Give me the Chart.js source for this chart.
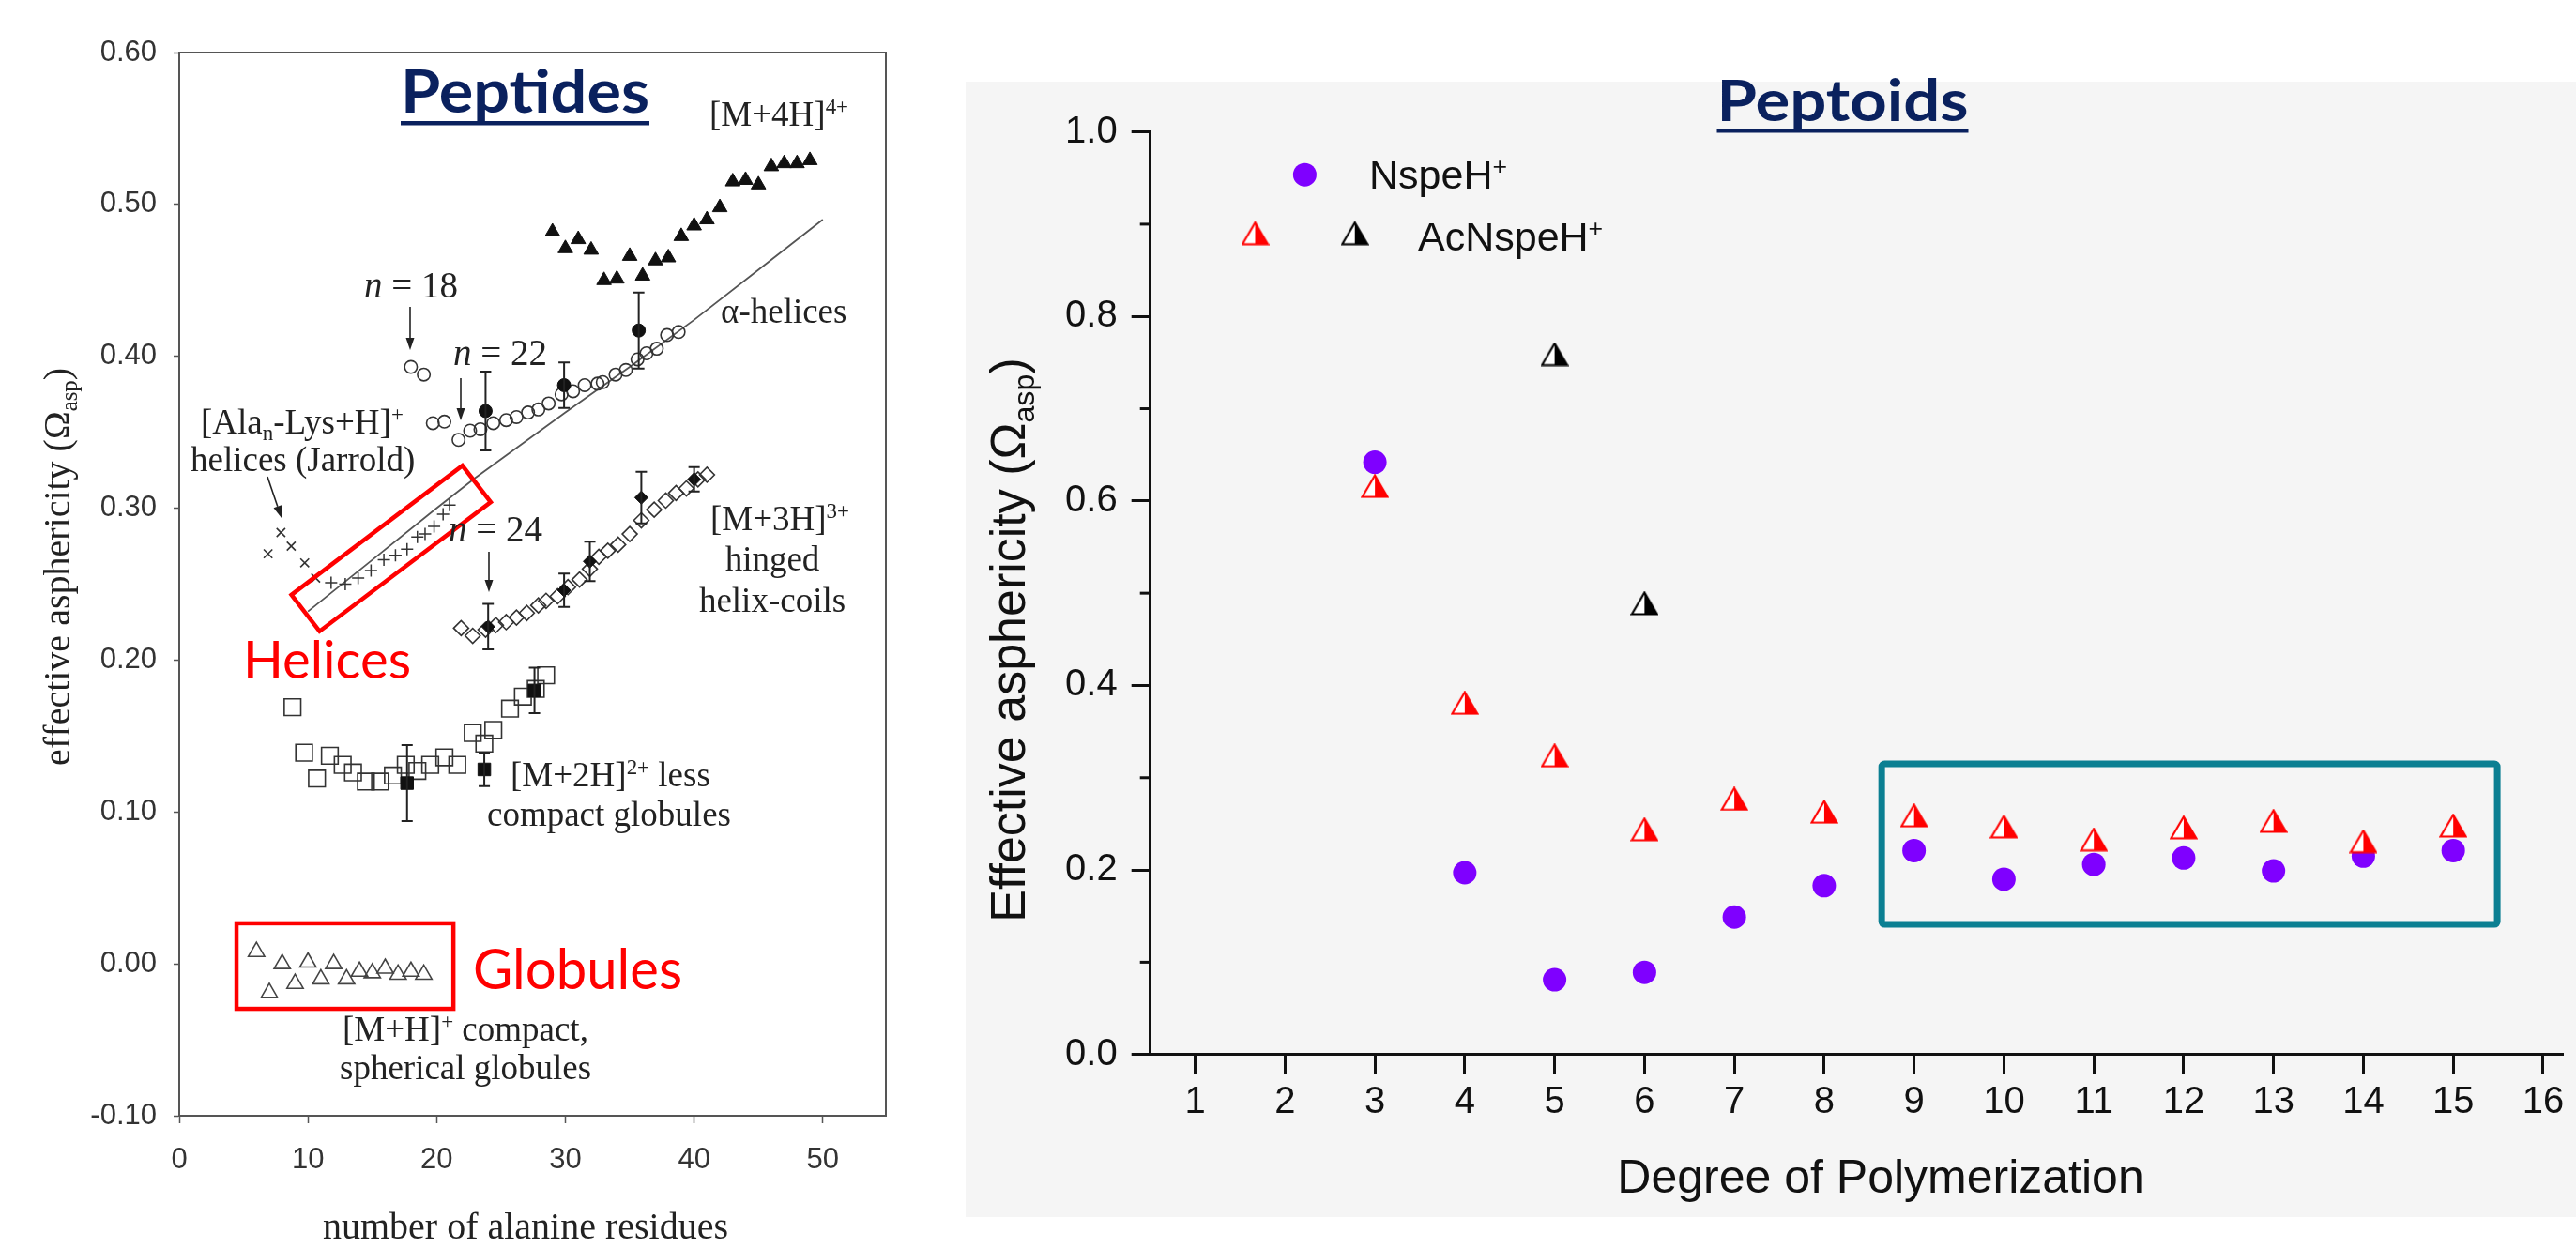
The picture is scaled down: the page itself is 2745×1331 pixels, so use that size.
<!DOCTYPE html>
<html>
<head>
<meta charset="utf-8">
<script src="https://cdn.jsdelivr.net/npm/chart.js@4.4.1/dist/chart.umd.min.js"></script>
<style>
html,body{margin:0;padding:0;background:#fff;width:2745px;height:1331px;overflow:hidden}
#left{position:absolute;left:0;top:0;width:1000px;height:1331px}
#right{position:absolute;left:1000px;top:0;width:1745px;height:1331px}
canvas{display:block}
</style>
</head>
<body>
<div id="left"><canvas id="c1" width="1000" height="1331"></canvas></div>
<div id="right"><canvas id="c2" width="1745" height="1331"></canvas></div>
<script>
// ================= DATA: left panel (Peptides) =================
const leftXTicks = [0, 10, 20, 30, 40, 50];
const leftYTicks = [-0.10, 0.00, 0.10, 0.20, 0.30, 0.40, 0.50, 0.60];

// alpha-helix model curve
const helixLineX = [10, 15, 20, 23, 30, 35, 40, 45, 50];
const helixLineY = [0.232, 0.266, 0.300, 0.320, 0.363, 0.393, 0.424, 0.457, 0.490];

// [M+4H]4+ filled triangles
const m4hX = [29, 30, 31, 32, 33, 34, 35, 36, 37, 38, 39, 40, 41, 42, 43, 44, 45, 46, 47, 48, 49];
const m4hY = [0.482, 0.471, 0.477, 0.470, 0.450, 0.451, 0.466, 0.453, 0.463, 0.465, 0.479, 0.486, 0.490, 0.498, 0.515, 0.516, 0.513, 0.525, 0.527, 0.527, 0.529];

// alpha-helices open circles
const helixX = [18, 19, 19.7, 20.6, 21.7, 22.6, 23.4, 24.4, 25.4, 26.2, 27.1, 27.9, 28.7, 29.7, 30.6, 31.5, 32.5, 32.9, 33.9, 34.7, 35.6, 36.3, 37.1, 37.9, 38.8];
const helixY = [0.393, 0.388, 0.356, 0.357, 0.345, 0.351, 0.352, 0.356, 0.358, 0.360, 0.363, 0.365, 0.369, 0.375, 0.377, 0.381, 0.382, 0.383, 0.388, 0.391, 0.398, 0.402, 0.405, 0.414, 0.416];
const helixFillX = [23.8, 29.9, 35.7];
const helixFillY = [0.364, 0.381, 0.417];
const helixFillErr = [0.026, 0.015, 0.025];

// [M+3H]3+ hinged helix-coils (diamonds)
const coilX = [21.9, 22.8, 23.8, 24.6, 25.4, 26.2, 27.0, 27.9, 28.5, 29.4, 30.2, 31.1, 31.9, 32.6, 33.3, 34.1, 35.0, 35.9, 36.9, 37.8, 38.6, 39.4, 40.3, 41.0];
const coilY = [0.221, 0.216, 0.220, 0.223, 0.225, 0.228, 0.231, 0.236, 0.239, 0.242, 0.248, 0.253, 0.260, 0.268, 0.272, 0.276, 0.283, 0.292, 0.299, 0.305, 0.310, 0.313, 0.319, 0.322];
const coilFillX = [24.0, 29.9, 31.9, 35.9, 40.0];
const coilFillY = [0.222, 0.246, 0.265, 0.307, 0.319];
const coilFillErr = [0.015, 0.011, 0.013, 0.017, 0.008];

// [Ala_n-Lys+H]+ helices (Jarrold)
const jarXA = [6.9, 7.9, 8.7, 9.75, 10.6];
const jarYA = [0.270, 0.284, 0.275, 0.264, 0.254];
const jarXB = [11.8, 12.9, 13.9, 14.9, 15.9, 16.8, 17.7, 18.5, 19.1, 19.8, 20.5, 21.0];
const jarYB = [0.251, 0.250, 0.254, 0.259, 0.266, 0.269, 0.273, 0.281, 0.283, 0.288, 0.296, 0.302];

// [M+2H]2+ less compact globules (squares)
const globX = [8.8, 9.7, 10.7, 11.7, 12.7, 13.5, 14.5, 15.6, 16.6, 17.6, 18.5, 19.5, 20.6, 21.6, 22.8, 23.7, 24.4, 25.7, 26.7, 27.7, 28.5];
const globY = [0.169, 0.139, 0.122, 0.137, 0.131, 0.126, 0.120, 0.120, 0.124, 0.131, 0.127, 0.131, 0.136, 0.131, 0.152, 0.145, 0.154, 0.168, 0.176, 0.181, 0.190];
const globFillX = [17.7, 23.7, 27.6];
const globFillY = [0.119, 0.128, 0.180];
const globFillErr = [0.025, 0.011, 0.015];

// [M+H]+ compact spherical globules (open triangles)
const compX = [6, 7, 8, 9, 10, 11, 12, 13, 14, 15, 16, 17, 18, 19];
const compY = [0.008, -0.019, 0.000, -0.013, 0.001, -0.010, 0.000, -0.010, -0.005, -0.006, -0.003, -0.007, -0.005, -0.007];

// ================= DATA: right panel (Peptoids) =================
const rightXTicks = [1, 2, 3, 4, 5, 6, 7, 8, 9, 10, 11, 12, 13, 14, 15, 16];
const rightYTicks = [0.0, 0.2, 0.4, 0.6, 0.8, 1.0];
const rightYMinor = [0.1, 0.3, 0.5, 0.7, 0.9];
const nspeX = [3, 4, 5, 6, 7, 8, 9, 10, 11, 12, 13, 14, 15];
const nspeY = [0.642, 0.197, 0.081, 0.089, 0.149, 0.183, 0.221, 0.190, 0.206, 0.213, 0.199, 0.215, 0.221];
const acRedX = [3, 4, 5, 6, 7, 8, 9, 10, 11, 12, 13, 14, 15];
const acRedY = [0.616, 0.381, 0.324, 0.244, 0.277, 0.263, 0.259, 0.247, 0.233, 0.246, 0.253, 0.231, 0.248];
const acBlackX = [5, 6];
const acBlackY = [0.759, 0.489];

// highlight regions (data coordinates)
const tealBox = {x0: 8.64, x1: 15.49, y0: 0.141, y1: 0.315};
const helixBox = [[8.72, 0.243], [22.0, 0.328], [24.2, 0.304], [10.9, 0.219]];
const globBox = {x0: 4.45, x1: 21.3, y0: -0.0296, y1: 0.0267};

// ================= helpers =================
const pts = (xs, ys) => xs.map((x, i) => ({x: x, y: ys[i]}));
const SERIF = '"Liberation Serif", "DejaVu Serif", serif';
const SANS = '"Liberation Sans", Arial, sans-serif';
const CAL = 'Lato, "Open Sans", sans-serif';
const NAVY = '#0a215e';

function drawRich(ctx, parts, x, y, o) {
  ctx.save();
  ctx.fillStyle = o.color || '#222';
  ctx.textBaseline = o.baseline || 'alphabetic';
  ctx.textAlign = 'left';
  const fontOf = p => {
    const s = (p.sup || p.sub) ? o.size * 0.62 : o.size;
    return (p.it ? 'italic ' : '') + (o.weight || 'normal') + ' ' + s + 'px ' + o.family;
  };
  let w = 0;
  const ws = parts.map(p => { ctx.font = fontOf(p); const m = ctx.measureText(p.t).width; w += m; return m; });
  let sx = 1;
  if (o.width) sx = o.width / w;
  const tw = w * sx;
  let left = o.align === 'center' ? x - tw / 2 : (o.align === 'right' ? x - tw : x);
  ctx.translate(left, y);
  ctx.scale(sx, 1);
  let cx = 0;
  parts.forEach((p, i) => {
    ctx.font = fontOf(p);
    const dy = p.sup ? -o.size * 0.36 : (p.sub ? o.size * 0.2 : 0);
    ctx.fillText(p.t, cx, dy);
    cx += ws[i];
  });
  ctx.restore();
  return {left: left, width: tw};
}

function arrow(ctx, x1, y1, x2, y2, color) {
  ctx.save();
  ctx.strokeStyle = color; ctx.fillStyle = color; ctx.lineWidth = 1.6;
  const a = Math.atan2(y2 - y1, x2 - x1);
  const L = 13, W = 4.5;
  ctx.beginPath(); ctx.moveTo(x1, y1); ctx.lineTo(x2 - L * Math.cos(a), y2 - L * Math.sin(a)); ctx.stroke();
  ctx.beginPath();
  ctx.moveTo(x2, y2);
  ctx.lineTo(x2 - L * Math.cos(a) + W * Math.sin(a), y2 - L * Math.sin(a) - W * Math.cos(a));
  ctx.lineTo(x2 - L * Math.cos(a) - W * Math.sin(a), y2 - L * Math.sin(a) + W * Math.cos(a));
  ctx.closePath(); ctx.fill();
  ctx.restore();
}

function halfTri(color) {
  const c = document.createElement('canvas');
  c.width = 30; c.height = 26;
  const g = c.getContext('2d');
  const ax = 15, ay = 1.5, lx = 1.5, rx = 28.5, by = 24.5;
  g.beginPath(); g.moveTo(ax, ay); g.lineTo(rx, by); g.lineTo(lx, by); g.closePath();
  g.fillStyle = '#fff'; g.fill();
  g.beginPath(); g.moveTo(ax, ay); g.lineTo(rx, by); g.lineTo(ax, by); g.closePath();
  g.fillStyle = color; g.fill();
  g.beginPath(); g.moveTo(ax, ay); g.lineTo(rx, by); g.lineTo(lx, by); g.closePath();
  g.strokeStyle = color; g.lineWidth = 2.2; g.stroke();
  return c;
}
const redTri = halfTri('#ff0000');
const blackTri = halfTri('#000000');

// ================= LEFT CHART =================
const leftErrSets = [
  {x: helixFillX, y: helixFillY, e: helixFillErr},
  {x: coilFillX, y: coilFillY, e: coilFillErr},
  {x: globFillX, y: globFillY, e: globFillErr}
];

const leftNotes = [
  {parts: [{t: '[M+4H]'}, {t: '4+', sup: 1}], x: 756, y: 134},
  {parts: [{t: 'α-helices'}], x: 768, y: 344},
  {parts: [{t: 'n', it: 1}, {t: ' = 18'}], x: 388, y: 317, size: 39},
  {parts: [{t: 'n', it: 1}, {t: ' = 22'}], x: 483, y: 389, size: 39},
  {parts: [{t: 'n', it: 1}, {t: ' = 24'}], x: 478, y: 577, size: 39},
  {parts: [{t: '[Ala'}, {t: 'n', sub: 1}, {t: '-Lys+H]'}, {t: '+', sup: 1}], x: 214, y: 462},
  {parts: [{t: 'helices (Jarrold)'}], x: 203, y: 502},
  {parts: [{t: '[M+3H]'}, {t: '3+', sup: 1}], x: 831, y: 565, align: 'center'},
  {parts: [{t: 'hinged'}], x: 823, y: 608, align: 'center'},
  {parts: [{t: 'helix-coils'}], x: 823, y: 652, align: 'center'},
  {parts: [{t: '[M+2H]'}, {t: '2+', sup: 1}, {t: ' less'}], x: 544, y: 838},
  {parts: [{t: 'compact globules'}], x: 519, y: 880},
  {parts: [{t: '[M+H]'}, {t: '+', sup: 1}, {t: ' compact,'}], x: 365, y: 1109},
  {parts: [{t: 'spherical globules'}], x: 362, y: 1150}
];
const leftArrows = [[437, 327, 437, 373], [491, 403, 491, 448], [521, 588, 521, 631], [285, 508, 300, 552]];

const leftPlugin = {
  id: 'leftDeco',
  afterDatasetsDraw(chart) {
    const ctx = chart.ctx, xs = chart.scales.x, ys = chart.scales.y, ca = chart.chartArea;
    // error bars
    ctx.save();
    ctx.strokeStyle = '#222'; ctx.lineWidth = 2;
    leftErrSets.forEach(s => {
      s.x.forEach((xv, i) => {
        const px = xs.getPixelForValue(xv);
        const p1 = ys.getPixelForValue(s.y[i] + s.e[i]);
        const p2 = ys.getPixelForValue(s.y[i] - s.e[i]);
        ctx.beginPath();
        ctx.moveTo(px, p1); ctx.lineTo(px, p2);
        ctx.moveTo(px - 6, p1); ctx.lineTo(px + 6, p1);
        ctx.moveTo(px - 6, p2); ctx.lineTo(px + 6, p2);
        ctx.stroke();
      });
    });
    ctx.restore();
    // frame
    ctx.save();
    ctx.strokeStyle = '#555'; ctx.lineWidth = 2;
    ctx.strokeRect(ca.left, ca.top, ca.right - ca.left, ca.bottom - ca.top);
    ctx.restore();
    // red highlight boxes
    ctx.save();
    ctx.strokeStyle = '#ff0000'; ctx.lineWidth = 4.5; ctx.lineJoin = 'miter';
    ctx.beginPath();
    helixBox.forEach((p, i) => {
      const px = xs.getPixelForValue(p[0]), py = ys.getPixelForValue(p[1]);
      if (i === 0) ctx.moveTo(px, py); else ctx.lineTo(px, py);
    });
    ctx.closePath(); ctx.stroke();
    const gx0 = xs.getPixelForValue(globBox.x0), gx1 = xs.getPixelForValue(globBox.x1);
    const gy0 = ys.getPixelForValue(globBox.y1), gy1 = ys.getPixelForValue(globBox.y0);
    ctx.strokeRect(gx0, gy0, gx1 - gx0, gy1 - gy0);
    ctx.restore();
  },
  afterDraw(chart) {
    const ctx = chart.ctx;
    leftNotes.forEach(n => drawRich(ctx, n.parts, n.x, n.y, {family: SERIF, size: n.size || 37, color: '#222', align: n.align || 'left'}));
    leftArrows.forEach(a => arrow(ctx, a[0], a[1], a[2], a[3], '#222'));
    // red labels
    drawRich(ctx, [{t: 'Helices'}], 259, 723, {family: CAL, size: 56, color: '#ff0000', width: 179});
    drawRich(ctx, [{t: 'Globules'}], 504, 1054, {family: CAL, size: 60, color: '#ff0000', width: 223});
    // title
    const r = drawRich(ctx, [{t: 'Peptides'}], 427, 120, {family: CAL, size: 64, weight: 'bold', color: NAVY, width: 265});
    ctx.save(); ctx.fillStyle = NAVY; ctx.fillRect(r.left, 129, r.width, 4.5); ctx.restore();
    // axis titles
    drawRich(ctx, [{t: 'number of alanine residues'}], 560, 1320, {family: SERIF, size: 40, color: '#222', align: 'center'});
    ctx.save();
    ctx.translate(74, 604); ctx.rotate(-Math.PI / 2);
    drawRich(ctx, [{t: 'effective asphericity ('}, {t: 'Ω'}, {t: 'asp', sub: 1}, {t: ')'}], 0, 0, {family: SERIF, size: 40, color: '#222', align: 'center'});
    ctx.restore();
  }
};

new Chart(document.getElementById('c1'), {
  type: 'scatter',
  data: {
    datasets: [
      {label: 'filled circles', data: pts(helixFillX, helixFillY), pointStyle: 'circle', pointRadius: 7, backgroundColor: '#111', borderColor: '#111', borderWidth: 1},
      {label: 'filled diamonds', data: pts(coilFillX, coilFillY), pointStyle: 'rectRot', pointRadius: 7, backgroundColor: '#111', borderColor: '#111', borderWidth: 1},
      {label: 'filled squares', data: pts(globFillX, globFillY), pointStyle: 'rect', pointRadius: 9.5, backgroundColor: '#111', borderColor: '#111', borderWidth: 1},
      {label: '[M+4H]4+', data: pts(m4hX, m4hY), pointStyle: 'triangle', pointRadius: 9, backgroundColor: '#111', borderColor: '#111', borderWidth: 1},
      {label: 'alpha-helices', data: pts(helixX, helixY), pointStyle: 'circle', pointRadius: 6.7, backgroundColor: 'rgba(0,0,0,0)', borderColor: '#333', borderWidth: 1.6},
      {label: '[M+3H]3+', data: pts(coilX, coilY), pointStyle: 'rectRot', pointRadius: 8, backgroundColor: 'rgba(0,0,0,0)', borderColor: '#333', borderWidth: 1.6},
      {label: 'Jarrold a', data: pts(jarXA, jarYA), pointStyle: 'crossRot', pointRadius: 6.5, borderColor: '#333', borderWidth: 1.6},
      {label: 'Jarrold b', data: pts(jarXB, jarYB), pointStyle: 'cross', pointRadius: 6.5, borderColor: '#333', borderWidth: 1.5},
      {label: '[M+2H]2+', data: pts(globX, globY), pointStyle: 'rect', pointRadius: 12.5, backgroundColor: 'rgba(0,0,0,0)', borderColor: '#333', borderWidth: 1.6},
      {label: '[M+H]+', data: pts(compX, compY), pointStyle: 'triangle', pointRadius: 10, backgroundColor: 'rgba(0,0,0,0)', borderColor: '#444', borderWidth: 1.6},
      {label: 'model', data: pts(helixLineX, helixLineY), showLine: true, pointRadius: 0, borderColor: '#555', borderWidth: 1.8, tension: 0}
    ]
  },
  options: {
    responsive: false, animation: false, devicePixelRatio: 1,
    layout: {padding: {left: 0, top: 56, right: 56, bottom: 0}},
    plugins: {legend: {display: false}, tooltip: {enabled: false}},
    scales: {
      x: {
        type: 'linear', min: 0, max: 54.9,
        afterBuildTicks: s => { s.ticks = leftXTicks.map(v => ({value: v})); },
        afterFit: s => { s.height = 142; s.paddingLeft = 0; s.paddingRight = 0; },
        ticks: {callback: v => String(v), font: {family: SANS, size: 31}, color: '#333', padding: 21, maxRotation: 0, autoSkip: false},
        grid: {display: true, drawOnChartArea: false, tickLength: 8, tickWidth: 1.5, tickColor: '#555'},
        border: {display: true, color: '#555', width: 2}
      },
      y: {
        type: 'linear', min: -0.10, max: 0.60,
        afterBuildTicks: s => { s.ticks = leftYTicks.map(v => ({value: v})); },
        afterFit: s => { s.width = 191; s.paddingTop = 0; s.paddingBottom = 0; },
        ticks: {callback: v => v.toFixed(2), font: {family: SANS, size: 31}, color: '#333', padding: 18, autoSkip: false},
        grid: {display: true, drawOnChartArea: false, tickLength: 6, tickWidth: 1.5, tickColor: '#555'},
        border: {display: true, color: '#555', width: 2}
      }
    }
  },
  plugins: [leftPlugin]
});

// ================= RIGHT CHART =================
const rightPlugin = {
  id: 'rightDeco',
  beforeDraw(chart) {
    const ctx = chart.ctx;
    ctx.save(); ctx.fillStyle = '#f5f5f5'; ctx.fillRect(29, 87, chart.width - 29, 1297 - 87); ctx.restore();
  },
  afterDatasetsDraw(chart) {
    const ctx = chart.ctx, xs = chart.scales.x, ys = chart.scales.y, ca = chart.chartArea;
    // minor y ticks
    ctx.save(); ctx.strokeStyle = '#111'; ctx.lineWidth = 3;
    rightYMinor.forEach(v => {
      const py = ys.getPixelForValue(v);
      ctx.beginPath(); ctx.moveTo(ca.left - 11, py); ctx.lineTo(ca.left, py); ctx.stroke();
    });
    ctx.restore();
    // teal highlight box
    const x0 = xs.getPixelForValue(tealBox.x0), x1 = xs.getPixelForValue(tealBox.x1);
    const y0 = ys.getPixelForValue(tealBox.y1), y1 = ys.getPixelForValue(tealBox.y0);
    ctx.save(); ctx.strokeStyle = '#0b7f92'; ctx.lineWidth = 7; ctx.lineJoin = 'round';
    ctx.beginPath(); ctx.roundRect(x0, y0, x1 - x0, y1 - y0, 3); ctx.stroke();
    ctx.restore();
  },
  afterDraw(chart) {
    const ctx = chart.ctx, xs = chart.scales.x, ys = chart.scales.y;
    // legend
    ctx.save(); ctx.fillStyle = '#7f00ff';
    ctx.beginPath(); ctx.arc(390.4, 186.2, 12.5, 0, Math.PI * 2); ctx.fill(); ctx.restore();
    ctx.drawImage(redTri, 337.5 - 15, 248.7 - 13);
    ctx.drawImage(blackTri, 443.7 - 15, 248.7 - 13);
    drawRich(ctx, [{t: 'NspeH'}, {t: '+', sup: 1}], 459, 201, {family: SANS, size: 43, color: '#111'});
    drawRich(ctx, [{t: 'AcNspeH'}, {t: '+', sup: 1}], 511, 267, {family: SANS, size: 43, color: '#111'});
    // title
    const r = drawRich(ctx, [{t: 'Peptoids'}], 829.5, 129, {family: CAL, size: 62, weight: 'bold', color: NAVY, width: 268});
    ctx.save(); ctx.fillStyle = NAVY; ctx.fillRect(r.left, 137, r.width, 4.5); ctx.restore();
    // axis titles
    drawRich(ctx, [{t: 'Degree of Polymerization'}], 1004, 1271, {family: SANS, size: 50, color: '#111', align: 'center'});
    ctx.save();
    ctx.translate(92, 682); ctx.rotate(-Math.PI / 2);
    drawRich(ctx, [{t: 'Effective asphericity ('}, {t: 'Ω'}, {t: 'asp', sub: 1}, {t: ')'}], 0, 0, {family: SANS, size: 52, color: '#111', align: 'center'});
    ctx.restore();
  }
};

new Chart(document.getElementById('c2'), {
  type: 'scatter',
  data: {
    datasets: [
      {label: 'AcNspeH+ (red)', data: pts(acRedX, acRedY), pointStyle: redTri, pointRadius: 13},
      {label: 'AcNspeH+ (black)', data: pts(acBlackX, acBlackY), pointStyle: blackTri, pointRadius: 13},
      {label: 'NspeH+', data: pts(nspeX, nspeY), pointStyle: 'circle', pointRadius: 12.5, backgroundColor: '#7f00ff', borderColor: '#7f00ff', borderWidth: 0}
    ]
  },
  options: {
    responsive: false, animation: false, devicePixelRatio: 1,
    layout: {padding: {left: 0, top: 140.6, right: 0, bottom: 0}},
    plugins: {legend: {display: false}, tooltip: {enabled: false}},
    scales: {
      x: {
        type: 'linear', min: 0.5, max: 16.22,
        afterBuildTicks: s => { s.ticks = rightXTicks.map(v => ({value: v})); },
        afterFit: s => { s.height = 207.3; s.paddingLeft = 0; s.paddingRight = 0; },
        ticks: {callback: v => String(v), font: {family: SANS, size: 40}, color: '#111', padding: 6, maxRotation: 0, autoSkip: false},
        grid: {display: true, drawOnChartArea: false, tickLength: 21, tickWidth: 3, tickColor: '#111'},
        border: {display: true, color: '#111', width: 3}
      },
      y: {
        type: 'linear', min: 0, max: 1.0,
        afterBuildTicks: s => { s.ticks = rightYTicks.map(v => ({value: v})); },
        afterFit: s => { s.width = 225.7; s.paddingTop = 0; s.paddingBottom = 0; },
        ticks: {callback: v => v.toFixed(1), font: {family: SANS, size: 40}, color: '#111', padding: 15, autoSkip: false},
        grid: {display: true, drawOnChartArea: false, tickLength: 20, tickWidth: 3, tickColor: '#111'},
        border: {display: true, color: '#111', width: 3}
      }
    }
  },
  plugins: [rightPlugin]
});
</script>
</body>
</html>
